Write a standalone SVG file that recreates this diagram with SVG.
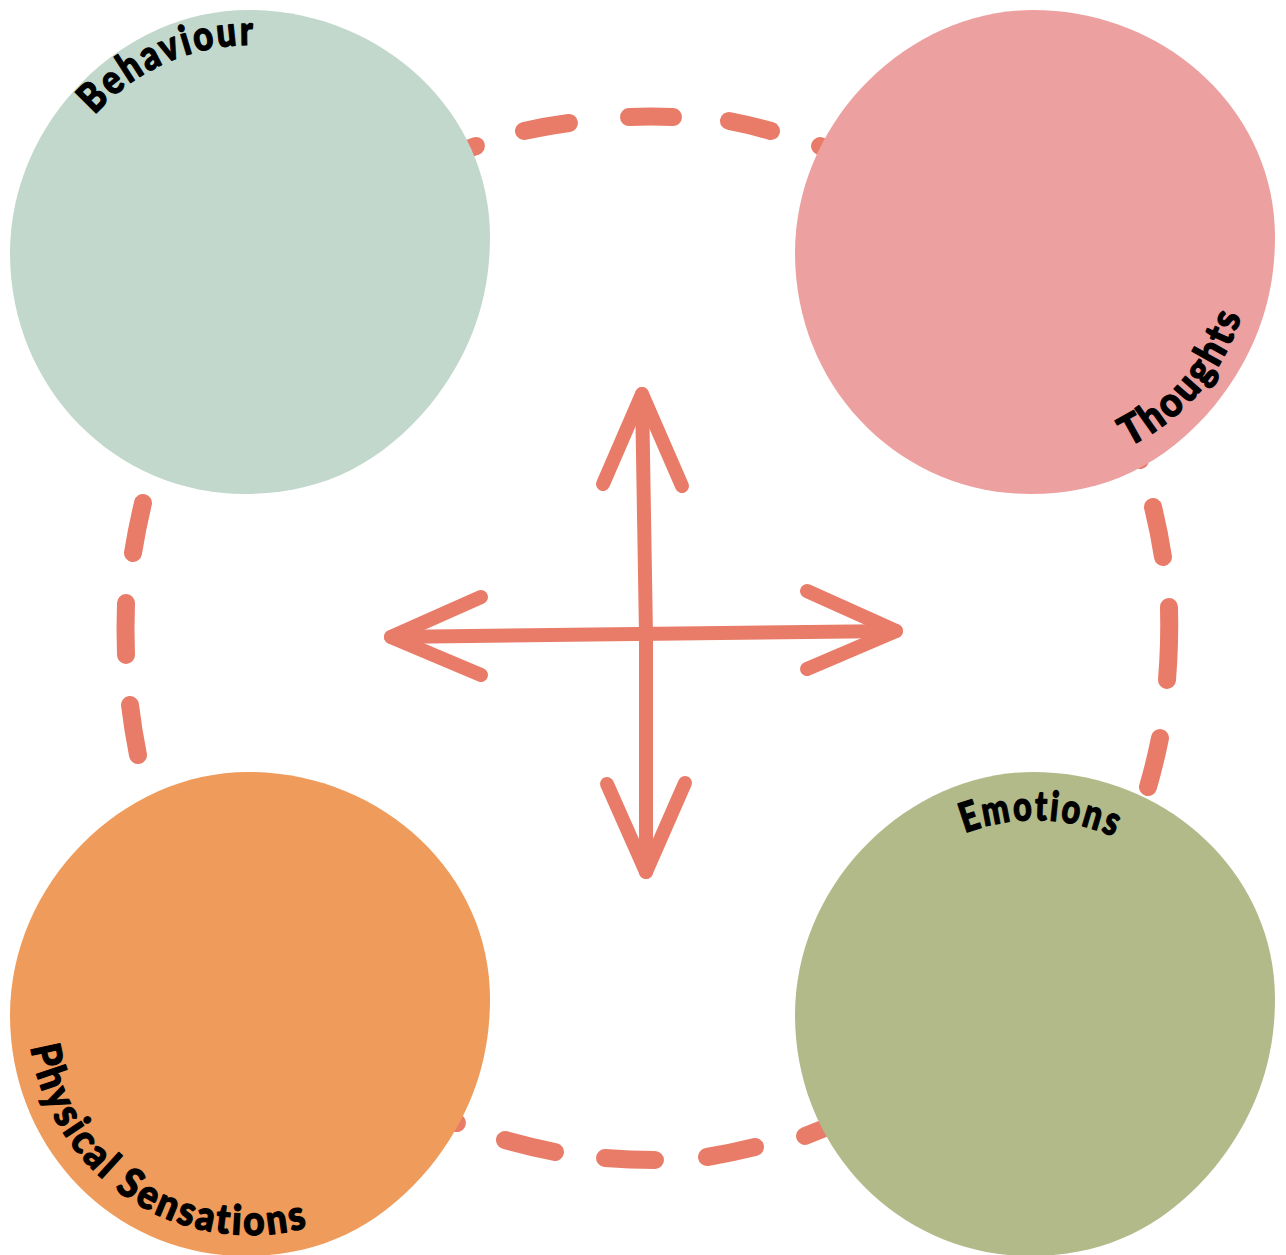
<svg xmlns="http://www.w3.org/2000/svg" xmlns:xlink="http://www.w3.org/1999/xlink" width="1286" height="1255" viewBox="0 0 1286 1255">
<style>
.dash{fill:none;stroke:#E97C69;stroke-width:18;stroke-linecap:round}
.arrow{fill:none;stroke:#E97C69;stroke-width:14;stroke-linecap:round;stroke-linejoin:round}
.lbl{font-family:Lato,"Noto Sans","DejaVu Sans",sans-serif;font-weight:900;font-size:41px;letter-spacing:3px;fill:#000;stroke:#000;stroke-width:1.3;stroke-linejoin:round}
</style>
<defs>
<path id="blob" d="M238,0 C370,0 480,100 480,227 C480,290 460,345 420,395 C370,455 310,484 235,484 C105,484 0,378 0,243 C0,112 112,0 238,0 Z"/>
<path id="pB" d="M94.7,115.2 A207,207 0 0 1 285.9,48.1"/>
<path id="pT" d="M1128.7,446.6 A216,216 0 0 0 1250.2,270.8"/>
<path id="pE" d="M964.9,833.2 A193,193 0 0 1 1131.5,845.9"/>
<path id="pP" d="M30.6,1047 A222,222 0 0 0 361,1205.3"/>
</defs>
<rect width="1286" height="1255" fill="#fff"/>
<g id="connectors">
<g id="dashed-loop">
<path class="dash" d="M432,162 L476,146"/>
<path class="dash" d="M524,131 Q546,126 569,123"/>
<path class="dash" d="M629,117 Q651,116 673,117"/>
<path class="dash" d="M729,121 Q750,125 771,131"/>
<path class="dash" d="M820,146 L866,166"/>
<path class="dash" d="M1124,414 L1140,460"/>
<path class="dash" d="M1153,507 Q1159,531 1163,557"/>
<path class="dash" d="M1169,607 Q1170,643 1167,680"/>
<path class="dash" d="M1160,738 Q1155,763 1148,787"/>
<path class="dash" d="M850,1118 L805,1136"/>
<path class="dash" d="M755,1147 Q731,1153 707,1157"/>
<path class="dash" d="M655,1160 Q630,1160 605,1158"/>
<path class="dash" d="M555,1152 Q530,1147 505,1140"/>
<path class="dash" d="M457,1123 L415,1103"/>
<path class="dash" d="M138,755 Q133,730 130,705"/>
<path class="dash" d="M126,655 Q125,629 126,603"/>
<path class="dash" d="M133,553 Q137,528 143,503"/>
</g>
<g id="cross-arrows">
<path class="arrow" d="M642,394 L646,635 L646,872"/>
<path class="arrow" d="M603,484 L642,394 L682,486"/>
<path class="arrow" d="M607,784 L646,872 L685,783"/>
<path class="arrow" d="M391,637 L896,631"/>
<path class="arrow" d="M481,597 L391,637 L481,675"/>
<path class="arrow" d="M807,591 L896,631 L807,669"/>
</g>
</g>
<g id="behaviour">
<use xlink:href="#blob" href="#blob" transform="translate(10,10)" fill="#C2D8CC"/>
<text class="lbl"><textPath xlink:href="#pB" href="#pB" textLength="181" lengthAdjust="spacingAndGlyphs">Behaviour</textPath></text>
</g>
<g id="thoughts">
<use xlink:href="#blob" href="#blob" transform="translate(795,10)" fill="#ECA1A0"/>
<text class="lbl"><textPath xlink:href="#pT" href="#pT" textLength="180" lengthAdjust="spacingAndGlyphs">Thoughts</textPath></text>
</g>
<g id="physical-sensations">
<use xlink:href="#blob" href="#blob" transform="translate(10,772)" fill="#EF9B5B"/>
<text class="lbl"><textPath xlink:href="#pP" href="#pP" textLength="375" lengthAdjust="spacingAndGlyphs">Physical Sensations</textPath></text>
</g>
<g id="emotions">
<use xlink:href="#blob" href="#blob" transform="translate(795,772)" fill="#B3BA8A"/>
<text class="lbl"><textPath xlink:href="#pE" href="#pE" textLength="155" lengthAdjust="spacingAndGlyphs">Emotions</textPath></text>
</g>
</svg>
